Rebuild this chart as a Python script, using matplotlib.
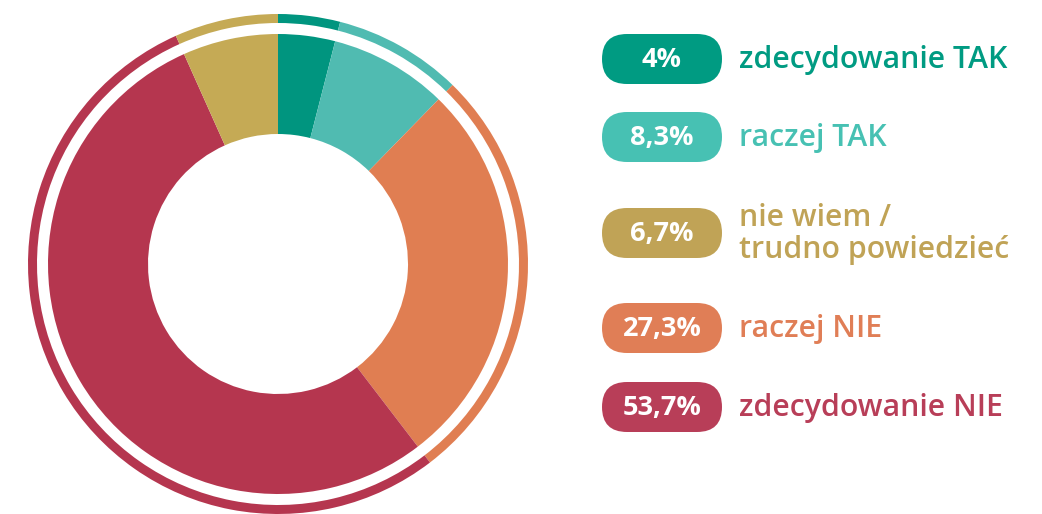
import matplotlib
matplotlib.use("Agg")
import matplotlib.pyplot as plt
from matplotlib.patches import FancyBboxPatch

# Data
categories = ["zdecydowanie TAK", "raczej TAK", "nie wiem /\ntrudno powiedzieć", "raczej NIE", "zdecydowanie NIE"]
values = [4.0, 8.3, 6.7, 27.3, 53.7]
pct_labels = ["4%", "8,3%", "6,7%", "27,3%", "53,7%"]
# order of slices clockwise from top
slice_order = [0, 1, 3, 4, 2]

colors = ["#00957F", "#50BBB1", "#C5AA55", "#E07E52", "#B5364F"]
pill_colors = ["#009B82", "#47C1B3", "#C0A356", "#E07E56", "#B83E58"]

W, H = 1042, 514
fig = plt.figure(figsize=(W / 100, H / 100), dpi=100)
ax = fig.add_axes([0, 0, 1, 1])

cx, cy = 278, H - 264
vals = [values[i] for i in slice_order]
cols = [colors[i] for i in slice_order]

# main donut
ax.pie(vals, colors=cols, center=(cx, cy), radius=230, startangle=90,
       counterclock=False, wedgeprops=dict(width=100, linewidth=0), frame=True)
# outer thin ring
ax.pie(vals, colors=cols, center=(cx, cy), radius=250, startangle=90,
       counterclock=False, wedgeprops=dict(width=9, linewidth=0), frame=True)
ax.set_xlim(0, W)
ax.set_ylim(0, H)
ax.set_aspect("equal")
ax.axis("off")

font = ["Open Sans", "DejaVu Sans"]
pill_centers_y = [59, 137, 233, 328, 407]
pill_x0, pill_x1 = 602, 722
pill_h = 50
for i, (lab, pct, yc) in enumerate(zip(categories, pct_labels, pill_centers_y)):
    y = H - yc
    p = FancyBboxPatch((pill_x0, y - pill_h / 2), pill_x1 - pill_x0, pill_h,
                       boxstyle="round,pad=0,rounding_size=%f" % (pill_h / 2),
                       facecolor=pill_colors[i], edgecolor="none")
    ax.add_patch(p)
    ax.text((pill_x0 + pill_x1) / 2, y - 1, pct, color="white", fontsize=19.5,
            fontweight="bold", ha="center", va="center", family=font)
    ax.text(739, y - 1, lab, color=pill_colors[i], fontsize=21.8, fontweight="semibold",
            ha="left", va="center", family=font, linespacing=1.08)

fig.savefig("out.png", dpi=100)
